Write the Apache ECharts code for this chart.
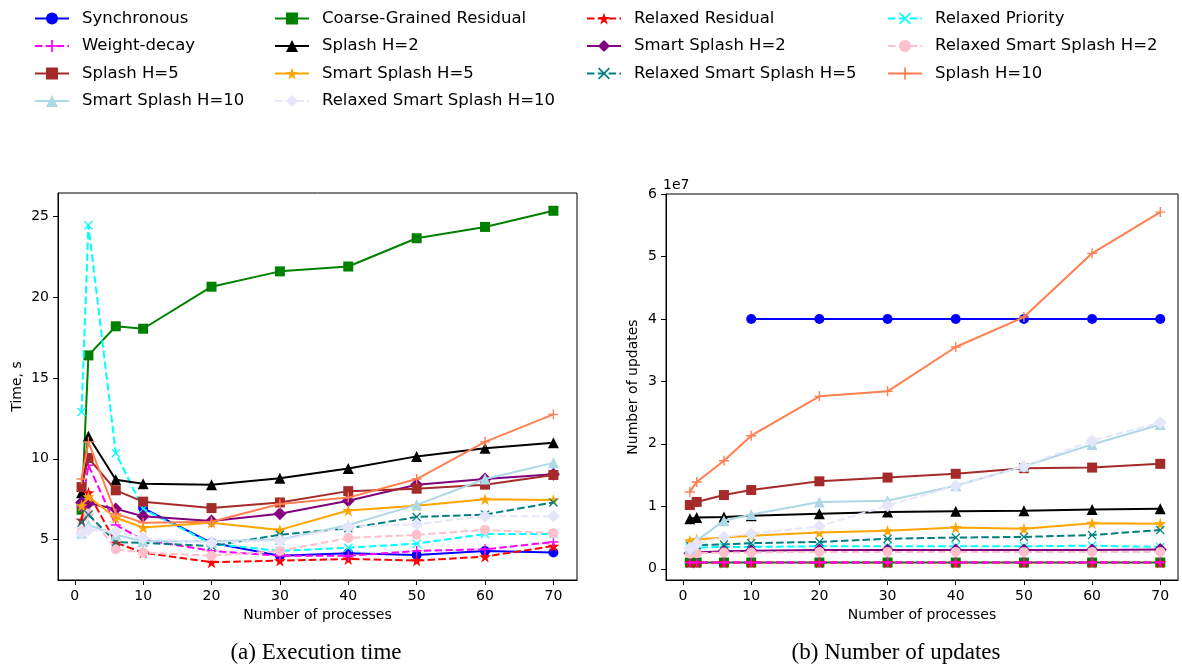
<!DOCTYPE html>
<html><head><meta charset="utf-8">
<script src="https://cdn.jsdelivr.net/npm/echarts@6/dist/echarts.min.js"></script>
<style>html,body{margin:0;padding:0;background:#fff}#c{width:1182px;height:668px}</style>
</head><body><div id="c"></div>
<script>
// ---------- data ----------
const procs = [1, 2, 6, 10, 20, 30, 40, 50, 60, 70];
const procsSync = [10, 20, 30, 40, 50, 60, 70];
const xTicks = [0, 10, 20, 30, 40, 50, 60, 70];
const timeTicks = [5, 10, 15, 20, 25];
const updTicks = [0, 1, 2, 3, 4, 5, 6];   // in units of 1e7

const seriesNames = ['Synchronous', 'Coarse-Grained Residual', 'Relaxed Residual', 'Relaxed Priority',
  'Weight-decay', 'Splash H=2', 'Smart Splash H=2', 'Relaxed Smart Splash H=2',
  'Splash H=5', 'Smart Splash H=5', 'Relaxed Smart Splash H=5',
  'Splash H=10', 'Smart Splash H=10', 'Relaxed Smart Splash H=10'];

// (a) execution time, s
const timeSynchronous = [6.95, 4.8, 4.0, 4.15, 4.05, 4.3, 4.2];
const timeCoarse = [6.85, 16.4, 18.2, 18.05, 20.65, 21.6, 21.9, 23.65, 24.35, 25.35];
const timeRelaxedResidual = [6.2, 7.9, 4.8, 4.2, 3.6, 3.7, 3.8, 3.7, 3.95, 4.6];
const timeRelaxedPriority = [12.9, 24.45, 10.35, 6.9, 4.75, 4.3, 4.5, 4.75, 5.35, 5.35];
const timeWeightDecay = [7.0, 9.6, 5.9, 5.0, 4.3, 4.0, 4.0, 4.3, 4.4, 4.85];
const timeSplash2 = [7.9, 11.4, 8.7, 8.45, 8.4, 8.8, 9.4, 10.15, 10.65, 11.0];
const timeSmartSplash2 = [7.3, 7.25, 6.9, 6.45, 6.15, 6.6, 7.4, 8.4, 8.75, 9.05];
const timeRelaxedSmartSplash2 = [5.5, 6.6, 4.4, 4.2, 4.0, 4.3, 5.1, 5.3, 5.6, 5.4];
const timeSplash5 = [8.25, 10.05, 8.05, 7.35, 6.95, 7.3, 8.0, 8.15, 8.4, 9.0];
const timeSmartSplash5 = [7.1, 7.65, 6.35, 5.75, 6.05, 5.6, 6.8, 7.1, 7.5, 7.45];
const timeRelaxedSmartSplash5 = [6.05, 6.55, 4.85, 4.8, 4.6, 5.3, 5.7, 6.4, 6.55, 7.3];
const timeSplash10 = [8.75, 11.05, 6.6, 6.05, 6.1, 7.2, 7.6, 8.75, 11.05, 12.75];
const timeSmartSplash10 = [5.4, 5.9, 5.3, 4.9, 4.9, 5.0, 5.9, 7.15, 8.75, 9.75];
const timeRelaxedSmartSplash10 = [5.4, 5.6, 5.5, 5.1, 4.8, 4.95, 5.8, 5.95, 6.45, 6.45];

// (b) number of updates, x 1e7
const updSynchronous = [4.0, 4.0, 4.0, 4.0, 4.0, 4.0, 4.0];
const updCoarse = [0.1, 0.1, 0.1, 0.1, 0.1, 0.1, 0.1, 0.1, 0.1, 0.1];
const updRelaxedResidual = [0.1, 0.1, 0.1, 0.1, 0.1, 0.1, 0.1, 0.1, 0.1, 0.1];
const updRelaxedPriority = [0.33, 0.34, 0.35, 0.35, 0.36, 0.36, 0.36, 0.36, 0.37, 0.35];
const updWeightDecay = [0.1, 0.1, 0.1, 0.1, 0.1, 0.1, 0.1, 0.1, 0.1, 0.1];
const updSplash2 = [0.8, 0.82, 0.83, 0.85, 0.88, 0.91, 0.92, 0.93, 0.95, 0.96];
const updSmartSplash2 = [0.25, 0.26, 0.28, 0.29, 0.30, 0.30, 0.30, 0.30, 0.30, 0.31];
const updRelaxedSmartSplash2 = [0.24, 0.25, 0.26, 0.26, 0.27, 0.27, 0.27, 0.27, 0.27, 0.27];
const updSplash5 = [1.02, 1.07, 1.18, 1.26, 1.40, 1.46, 1.52, 1.61, 1.62, 1.68];
const updSmartSplash5 = [0.45, 0.47, 0.50, 0.53, 0.58, 0.61, 0.66, 0.64, 0.73, 0.72];
const updRelaxedSmartSplash5 = [0.37, 0.38, 0.39, 0.41, 0.43, 0.48, 0.50, 0.51, 0.54, 0.62];
const updSplash10 = [1.23, 1.39, 1.73, 2.13, 2.76, 2.84, 3.55, 4.03, 5.05, 5.71];
const updSmartSplash10 = [0.33, 0.45, 0.77, 0.87, 1.07, 1.09, 1.33, 1.64, 1.99, 2.31];
const updRelaxedSmartSplash10 = [0.33, 0.40, 0.51, 0.56, 0.68, 1.01, 1.33, 1.64, 2.05, 2.34];

const timeData = [timeSynchronous, timeCoarse, timeRelaxedResidual, timeRelaxedPriority, timeWeightDecay,
  timeSplash2, timeSmartSplash2, timeRelaxedSmartSplash2, timeSplash5, timeSmartSplash5,
  timeRelaxedSmartSplash5, timeSplash10, timeSmartSplash10, timeRelaxedSmartSplash10];
const updData = [updSynchronous, updCoarse, updRelaxedResidual, updRelaxedPriority, updWeightDecay,
  updSplash2, updSmartSplash2, updRelaxedSmartSplash2, updSplash5, updSmartSplash5,
  updRelaxedSmartSplash5, updSplash10, updSmartSplash10, updRelaxedSmartSplash10];

// ---------- styles ----------
const STAR = 'path://M50,0L61.2,34.5L97.6,34.5L68.2,55.9L79.4,90.5L50,69.1L20.6,90.5L31.8,55.9L2.4,34.5L38.8,34.5Z';
const PLUS = 'path://M4.3,0H5.7V4.3H10V5.7H5.7V10H4.3V5.7H0V4.3H4.3Z';
const XMARK = 'path://M0,1L1,0L5,4L9,0L10,1L6,5L10,9L9,10L5,6L1,10L0,9L4,5Z';
const DASH = [7.5, 3.3];
const styles = [
  {color: '#0000ff', symbol: 'circle', size: 10, dash: false},
  {color: '#008000', symbol: 'rect', size: 10, dash: false},
  {color: '#ff0000', symbol: STAR, size: 12, dash: true},
  {color: '#00ffff', symbol: XMARK, size: 9, dash: true},
  {color: '#ff00ff', symbol: PLUS, size: 10, dash: true},
  {color: '#000000', symbol: 'triangle', size: 11, dash: false},
  {color: '#800080', symbol: 'diamond', size: 13, dash: false},
  {color: '#ffc0cb', symbol: 'circle', size: 10, dash: true},
  {color: '#a52a2a', symbol: 'rect', size: 10, dash: false},
  {color: '#ffa500', symbol: STAR, size: 12, dash: false},
  {color: '#008080', symbol: XMARK, size: 9, dash: true},
  {color: '#ff7f50', symbol: PLUS, size: 10, dash: false},
  {color: '#add8e6', symbol: 'triangle', size: 11, dash: false},
  {color: '#e6e6fa', symbol: 'diamond', size: 13, dash: true}
];

const FONT = 'DejaVu Sans';
const series = [];
seriesNames.forEach((name, i) => {
  const st = styles[i];
  const xs = name === 'Synchronous' ? procsSync : procs;
  [timeData[i], updData[i]].forEach((vals, k) => {
    series.push({
      name: name, type: 'line', xAxisIndex: k, yAxisIndex: k,
      data: xs.map((x, j) => [x, vals[j]]),
      symbol: st.symbol, symbolSize: st.size, showAllSymbol: true,
      lineStyle: {color: st.color, width: 2, type: st.dash ? DASH : 'solid'},
      itemStyle: {color: st.color, borderWidth: 0},
      emphasis: {disabled: true}, z: 2 + i * 0.01
    });
  });
});

const legendCols = [
  {left: 29, names: ['Synchronous', 'Weight-decay', 'Splash H=5', 'Smart Splash H=10']},
  {left: 269, names: ['Coarse-Grained Residual', 'Splash H=2', 'Smart Splash H=5', 'Relaxed Smart Splash H=10']},
  {left: 581, names: ['Relaxed Residual', 'Smart Splash H=2', 'Relaxed Smart Splash H=5']},
  {left: 882, names: ['Relaxed Priority', 'Relaxed Smart Splash H=2', 'Splash H=10']}
];
const legends = legendCols.map(c => ({
  orient: 'vertical', left: c.left, top: 5, data: c.names,
  itemWidth: 34, itemHeight: 15, itemGap: 10.5,
  textStyle: {fontFamily: FONT, fontSize: 16.5, color: '#000', lineHeight: 17, padding: [0, 0, 0, 8]},
  selectedMode: false
}));

function xAxis(gridIndex, min, max) {
  return {
    type: 'value', gridIndex, min, max,
    name: 'Number of processes', nameLocation: 'middle', nameGap: 27,
    nameTextStyle: {fontFamily: FONT, fontSize: 14, color: '#000'},
    axisLine: {show: true, onZero: false, lineStyle: {color: '#000', width: 1}},
    axisTick: {show: true, inside: false, length: 5, lineStyle: {color: '#000', width: 1}, customValues: xTicks},
    axisLabel: {fontFamily: FONT, fontSize: 14, color: '#000', margin: 9, customValues: xTicks},
    splitLine: {show: false}
  };
}
function yAxis(gridIndex, min, max, ticks, name, gap) {
  return {
    type: 'value', gridIndex, min, max,
    name, nameLocation: 'middle', nameGap: gap, nameRotate: 90,
    nameTextStyle: {fontFamily: FONT, fontSize: 14, color: '#000'},
    axisLine: {show: true, onZero: false, lineStyle: {color: '#000', width: 1}},
    axisTick: {show: true, inside: false, length: 5, lineStyle: {color: '#000', width: 1}, customValues: ticks},
    axisLabel: {fontFamily: FONT, fontSize: 14, color: '#000', margin: 9, customValues: ticks},
    splitLine: {show: false}
  };
}

const option = {
  backgroundColor: '#fff',
  animation: false,
  legend: legends,
  grid: [
    {left: 58, top: 193, width: 519, height: 387, show: true, borderColor: '#000', borderWidth: 1, containLabel: false},
    {left: 666, top: 194, width: 512, height: 386, show: true, borderColor: '#000', borderWidth: 1, containLabel: false}
  ],
  xAxis: [xAxis(0, -2.45, 73.45), xAxis(1, -2.5, 72.6)],
  yAxis: [yAxis(0, 2.5, 26.45, timeTicks, 'Time, s', 34), yAxis(1, -0.18, 6.0, updTicks, 'Number of updates', 26)],
  series,
  graphic: [
    {type: 'text', left: 663, top: 178, style: {text: '1e7', fontFamily: FONT, fontSize: 14, fill: '#000'}},
    {type: 'text', x: 316, y: 653, style: {text: '(a) Execution time', fontFamily: 'Liberation Serif', fontSize: 23, fill: '#000', textAlign: 'center', textVerticalAlign: 'middle'}},
    {type: 'text', x: 896, y: 653, style: {text: '(b) Number of updates', fontFamily: 'Liberation Serif', fontSize: 23, fill: '#000', textAlign: 'center', textVerticalAlign: 'middle'}}
  ]
};
const chart = echarts.init(document.getElementById('c'), null, {renderer: 'canvas'});
chart.setOption(option);
</script></body></html>
